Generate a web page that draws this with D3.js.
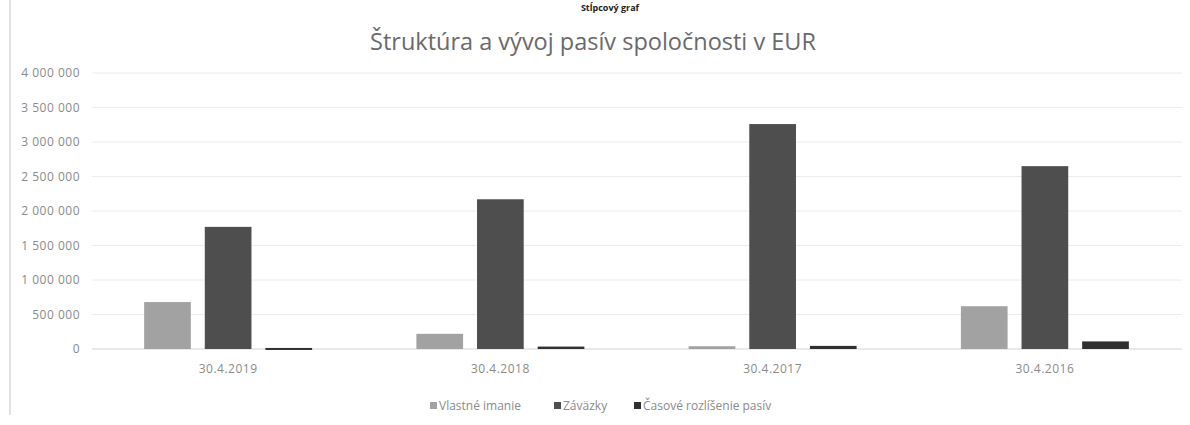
<!DOCTYPE html>
<html>
<head>
<meta charset="utf-8">
<script src="https://cdn.jsdelivr.net/npm/d3@7"></script>
<style>
  body { margin: 0; background: #fff; }
  svg text { font-family: "Open Sans", "Noto Sans", sans-serif; }
</style>
</head>
<body>
<div id="chart"></div>
<script>
// categories and series
var dates = ["30.4.2019", "30.4.2018", "30.4.2017", "30.4.2016"];
var seriesNames = ["Vlastné imanie", "Záväzky", "Časové rozlíšenie pasív"];
var vlastneImanie = [680000, 220000, 40000, 620000];
var zavazky = [1770000, 2170000, 3260000, 2650000];
var casoveRozlisenie = [15000, 35000, 45000, 110000];
var yTicks = [0, 500000, 1000000, 1500000, 2000000, 2500000, 3000000, 3500000, 4000000];
var colors = ["#a2a2a2", "#4e4e4e", "#303030"];

var width = 1190, height = 425;

var svg = d3.select("#chart").append("svg")
    .attr("width", width)
    .attr("height", height);

// faint scan border on the left
svg.append("line")
    .attr("x1", 10).attr("x2", 10)
    .attr("y1", 0).attr("y2", 415)
    .attr("stroke", "#d8d8d8").attr("stroke-width", 1.5);

// heading from the page above (cut by the scan)
svg.append("text")
    .attr("x", 610).attr("y", 11)
    .attr("text-anchor", "middle")
    .style("font-size", "9px").style("font-weight", "bold")
    .attr("fill", "#222")
    .text("Stĺpcový graf");

// title
svg.append("text")
    .attr("x", 593).attr("y", 50)
    .attr("text-anchor", "middle")
    .style("font-size", "23.5px")
    .attr("fill", "#6a6a6a")
    .text("Štruktúra a vývoj pasív spoločnosti v EUR");

// scales
var yScale = d3.scaleLinear()
    .domain([0, 4000000])
    .range([349, 73]);

var xScale = d3.scaleBand()
    .domain(dates)
    .range([92, 1181]);

var inner = d3.scaleBand()
    .domain(d3.range(seriesNames.length))
    .range([0, xScale.bandwidth()])
    .paddingInner(0.23)
    .paddingOuter(0.86);

// gridlines
svg.append("g")
    .selectAll("line")
    .data(yTicks)
    .join("line")
    .attr("x1", 92).attr("x2", 1182)
    .attr("y1", function(d) { return yScale(d); })
    .attr("y2", function(d) { return yScale(d); })
    .attr("stroke", function(d) { return d === 0 ? "#d4d4d4" : "#ececec"; })
    .attr("stroke-width", 1);

// y axis labels
var fmt = function(d) { return d3.format(",")(d).replace(/,/g, " "); };
var yAxis = d3.axisLeft(yScale).tickValues(yTicks).tickFormat(fmt).tickSize(0).tickPadding(0);
var yG = svg.append("g")
    .attr("transform", "translate(80,0)")
    .call(yAxis);
yG.select(".domain").remove();
yG.selectAll("text").style("font-size", "12px").style("letter-spacing", "0.5px").attr("fill", "#8a8a8a");

// bars
var rows = dates.map(function(d, i) {
    return { date: d, values: [vlastneImanie[i], zavazky[i], casoveRozlisenie[i]] };
});

var groups = svg.append("g")
    .selectAll("g")
    .data(rows)
    .join("g")
    .attr("transform", function(d) { return "translate(" + xScale(d.date) + ",0)"; });

groups.selectAll("rect")
    .data(function(d) { return d.values; })
    .join("rect")
    .attr("x", function(d, i) { return inner(i); })
    .attr("width", inner.bandwidth())
    .attr("y", function(d) { return yScale(d); })
    .attr("height", function(d) { return Math.max(2, yScale(0) - yScale(d)); })
    .attr("fill", function(d, i) { return colors[i]; });

// x axis labels
var xAxis = d3.axisBottom(xScale).tickSize(0).tickPadding(0);
var xG = svg.append("g")
    .attr("transform", "translate(0,364)")
    .call(xAxis);
xG.select(".domain").remove();
xG.selectAll("text").style("font-size", "12px").style("letter-spacing", "0.5px").attr("fill", "#8a8a8a");

// legend
var legendX = [430, 554, 634];
var legend = svg.append("g")
    .selectAll("g")
    .data(seriesNames)
    .join("g")
    .attr("transform", function(d, i) { return "translate(" + legendX[i] + ",402)"; });

legend.append("rect")
    .attr("width", 7).attr("height", 7)
    .attr("fill", function(d, i) { return colors[i]; });

legend.append("text")
    .attr("x", 9).attr("y", 8)
    .style("font-size", "12px")
    .attr("fill", "#8a8a8a")
    .text(function(d) { return d; });
</script>
</body>
</html>
